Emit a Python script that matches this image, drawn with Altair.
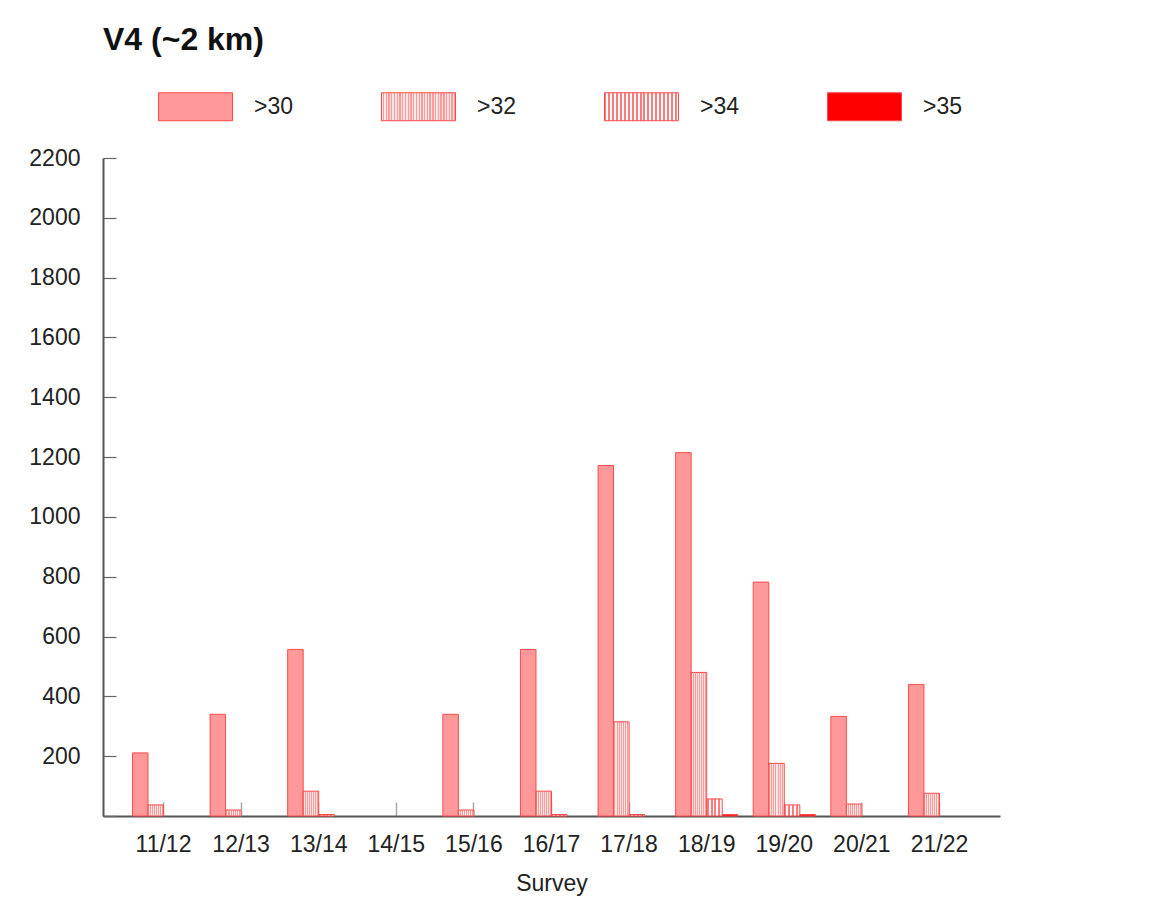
import json
import altair as alt
import pandas as pd

surveys = ["11/12", "12/13", "13/14", "14/15", "15/16", "16/17", "17/18", "18/19", "19/20", "20/21", "21/22"]
series_names = [">30", ">32", ">34", ">35"]
gt30 = [211, 340, 557, 0, 340, 557, 1172, 1215, 782, 333, 440]
gt32 = [37, 20, 83, 0, 20, 83, 315, 480, 176, 40, 76]
gt34 = [0, 0, 5, 0, 0, 5, 5, 57, 37, 0, 0]
gt35 = [0, 0, 0, 0, 0, 0, 0, 5, 5, 0, 0]
y_ticks = [0, 200, 400, 600, 800, 1000, 1200, 1400, 1600, 1800, 2000, 2200]

rows = []
for name, vals in zip(series_names, [gt30, gt32, gt34, gt35]):
    for s, v in zip(surveys, vals):
        rows.append({"survey": s, "series": name, "value": v})
df = pd.DataFrame(rows)


def stripes(c1, c2, n):
    stops = []
    for k in range(n):
        a = k / n
        b = (k + 0.5) / n
        c = (k + 1) / n
        stops += [
            {"offset": round(a, 4), "color": c1},
            {"offset": round(b, 4), "color": c1},
            {"offset": round(b, 4), "color": c2},
            {"offset": round(c, 4), "color": c2},
        ]
    return {"gradient": "linear", "x1": 0, "y1": 0, "x2": 1, "y2": 0, "stops": stops}


FONT = "Liberation Sans"
C30 = "#FF9999"
C35 = "#FF0000"
g32_bar = stripes("#FF9A9A", "#FFE6E6", 8)
g34_bar = stripes("#FF7A7A", "#FFFFFF", 4)
g32_leg = stripes("#FF9A9A", "#FFE6E6", 37)
g34_leg = stripes("#FF7A7A", "#FFFFFF", 19)

fill_range = [C30, alt.ExprRef(json.dumps(g32_leg)), alt.ExprRef(json.dumps(g34_leg)), C35]

fill = alt.Fill(
    "series:N",
    sort=series_names,
    scale=alt.Scale(domain=series_names, range=fill_range),
    condition=[
        {"test": "datum.series === '>32'", "value": g32_bar},
        {"test": "datum.series === '>34'", "value": g34_bar},
    ],
    legend=alt.Legend(
        title=None,
        orient="none",
        legendX=55,
        legendY=-89,
        direction="horizontal",
        columns=4,
        columnPadding=85,
        padding=0,
        symbolType="M-1,-0.378H1V0.378H-1Z",
        symbolSize=5476,
        symbolStrokeWidth=1,
        symbolStrokeColor="#FF4A4A",
        symbolOpacity=1,
        labelFontSize=23,
        labelFont=FONT,
        labelColor="#222222",
        labelOffset=21,
    ),
)

chart = (
    alt.Chart(df)
    .transform_filter("datum.value > 0")
    .mark_bar(strokeWidth=1, stroke="#FF4A4A", opacity=1)
    .encode(
        x=alt.X(
            "survey:N",
            sort=surveys,
            scale=alt.Scale(domain=surveys, paddingInner=0.2, paddingOuter=0.38),
            axis=alt.Axis(
                title="Survey",
                labelAngle=0,
                labelFontSize=23,
                labelFont=FONT,
                labelColor="#222222",
                labelPadding=31,
                tickSize=alt.ExprRef("-14"),
                tickColor="#AAAAAA",
                tickWidth=1.5,
                domainColor="#555555",
                domainWidth=2,
                titleFontSize=23,
                titleFont=FONT,
                titleFontWeight="normal",
                titleColor="#222222",
                titlePadding=16,
            ),
        ),
        xOffset=alt.XOffset("series:N", sort=series_names, scale=alt.Scale(domain=series_names, paddingInner=0, paddingOuter=0)),
        y=alt.Y(
            "value:Q",
            scale=alt.Scale(domain=[0, 2200], nice=False),
            axis=alt.Axis(
                title=None,
                values=y_ticks,
                labelExpr="datum.value == 0 ? '' : datum.label",
                format="d",
                labelFontSize=23,
                labelFont=FONT,
                labelColor="#222222",
                labelPadding=36,
                tickSize=alt.ExprRef("-13"),
                tickColor="#666666",
                tickWidth=1.2,
                domainColor="#555555",
                domainWidth=2,
                grid=False,
            ),
        ),
        fill=fill,
    )
    .properties(
        width=897,
        height=658,
        autosize="none",
        padding={"left": 95, "top": 150, "right": 120, "bottom": 90},
        title=alt.Title(
            "V4 (~2 km)",
            anchor="start",
            frame="group",
            fontSize=32,
            fontWeight="bold",
            font=FONT,
            color="#111111",
            offset=12,
        ),
    )
    .configure_view(stroke=None)
)

chart.save("out.html", embed_options={"renderer": "svg", "actions": False})
